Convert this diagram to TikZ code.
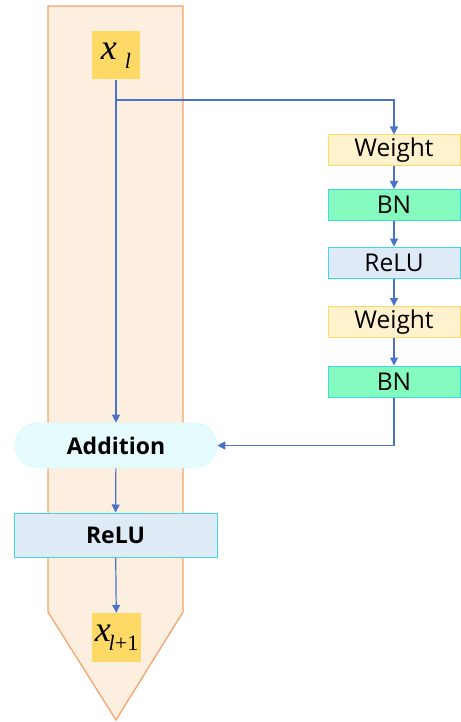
\documentclass[tikz,border=0pt]{standalone}
\usepackage{fontspec}
\setmainfont{Open Sans}
\newfontfamily\mathserif{Liberation Serif}
\usetikzlibrary{arrows.meta}
\definecolor{arrowfill}{HTML}{FDEFE0}
\definecolor{arrowdraw}{HTML}{F4A46C}
\definecolor{xfill}{HTML}{FFD966}
\definecolor{wfill}{HTML}{FFF2CC}
\definecolor{wdraw}{HTML}{FFD966}
\definecolor{bnfill}{HTML}{84FABF}
\definecolor{cyanline}{HTML}{40D8E0}
\definecolor{relufill}{HTML}{DEEAF6}
\definecolor{addfill}{HTML}{E6FBFC}
\definecolor{conn}{HTML}{4A72C8}
\tikzset{
  rbox/.style={minimum width=132pt,minimum height=31pt,inner sep=0pt,line width=1pt,font=\fontsize{24.5}{26}\selectfont},
  wbox/.style={rbox,fill=wfill,draw=wdraw},
  bnbox/.style={rbox,fill=bnfill,draw=cyanline},
  rlbox/.style={rbox,fill=relufill,draw=cyanline},
  xbox/.style={fill=xfill,minimum width=48pt,minimum height=48pt,inner sep=0pt},
  conn/.style={draw=conn,line width=1.2pt},
  arr/.style={conn,-{Triangle[length=8pt,width=8pt]}}
}
\begin{document}
\begin{tikzpicture}[x=1pt,y=-1pt]
\useasboundingbox (0,0) rectangle (460,722);
% big arrow background
\draw[fill=arrowfill,draw=arrowdraw,line width=1.3pt] (48,6) -- (183,6) -- (183,612) -- (116,720) -- (48,612) -- cycle;
% input
\node[xbox] (xl) at (116,55.5) {\mathserif\itshape\fontsize{36}{36}\selectfont x\hspace{8pt}\raisebox{-9pt}{\fontsize{22}{22}\selectfont l}};
% right branch
\node[wbox] (w1) at (394,150.5) {Weight};
\node[bnbox] (bn1) at (394,205) {BN};
\node[rlbox] (r1) at (394,262.5) {ReLU};
\node[wbox] (w2) at (394,322) {Weight};
\node[bnbox] (bn2) at (394,381.5) {BN};
% addition
\node[fill=addfill,draw=addfill!80!cyan!60,line width=0.6pt,rounded corners=22pt,minimum width=202pt,minimum height=45pt,inner sep=0pt,font=\bfseries\fontsize{23}{26}\selectfont] (add) at (116,445.5) {Addition};
% relu bottom
\node[fill=relufill,draw=cyanline,line width=1pt,minimum width=203pt,minimum height=44pt,inner sep=0pt,font=\bfseries\fontsize{23}{26}\selectfont] (r2) at (115.5,535) {ReLU};
% output
\node[xbox,minimum width=49pt,minimum height=49pt] (xo) at (116.5,637.5) {\mathserif\itshape\fontsize{36}{36}\selectfont x\kern-2pt\raisebox{-9pt}{\fontsize{22}{22}\selectfont l\upshape+1}};
% connectors
\coordinate (br) at (116,100);
\draw[arr] (xl.south) -- (add.north);
\draw[arr] (br) -| (w1.north);
\draw[arr] (w1) -- (bn1);
\draw[arr] (bn1) -- (r1);
\draw[arr] (r1) -- (w2);
\draw[arr] (w2) -- (bn2);
\draw[arr] (bn2.south) |- (add.east);
\draw[arr] (add) -- (r2);
\draw[arr] (r2) -- (xo);
\end{tikzpicture}
\end{document}
